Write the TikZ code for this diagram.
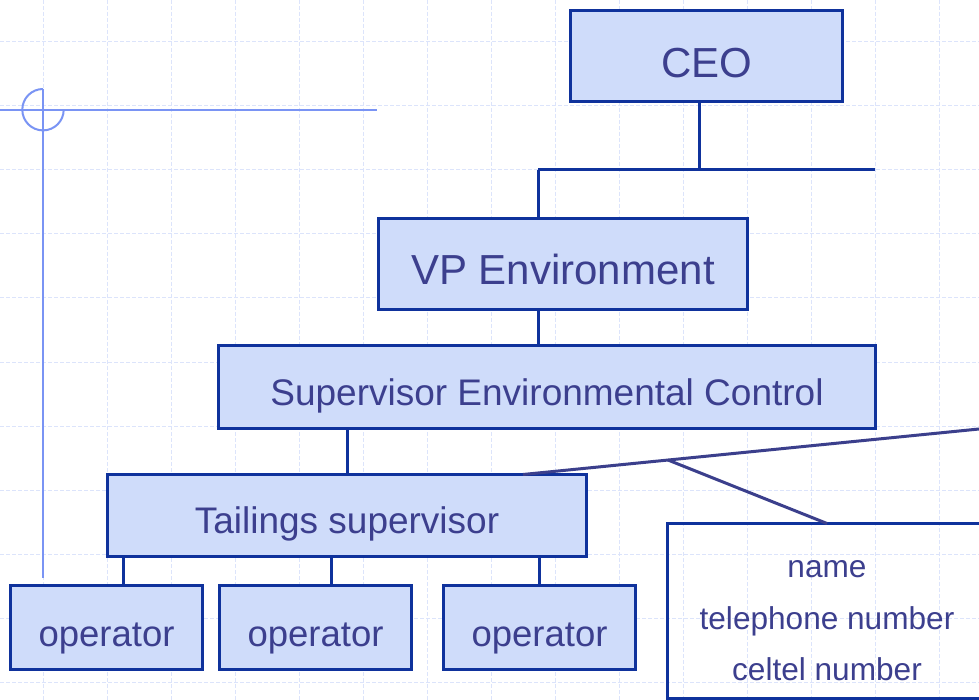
\documentclass[tikz,border=0pt]{standalone}
\usepackage{fontspec}
\setmainfont{Liberation Sans}
\usetikzlibrary{calc}
\definecolor{boxfill}{HTML}{CFDCFA}
\definecolor{boxline}{HTML}{0F329C}
\definecolor{txtcol}{HTML}{3C3F8E}
\definecolor{slantcol}{HTML}{3B3F8C}
\definecolor{decorcol}{HTML}{7A94F4}
\definecolor{gridcol}{HTML}{DCE4FB}
\begin{document}
\begin{tikzpicture}[x=1pt,y=-1pt,
  gridline/.style={draw=gridcol, line width=1pt, dash pattern=on 4pt off 2pt},
  decor/.style={draw=decorcol, line width=2pt},
  orgbox/.style={draw=boxline, fill=boxfill, line width=3pt, inner sep=0pt, outer sep=0pt, text=txtcol, anchor=center},
  bigbox/.style={orgbox, font=\fontsize{42}{50}\selectfont, text depth=0pt},
  midbox/.style={orgbox, font=\fontsize{37}{44}\selectfont, text depth=0pt},
  opbox/.style={orgbox, font=\fontsize{36.5}{44}\selectfont, minimum width=192pt, minimum height=84pt, text height=37pt, text depth=0pt},
  infobox/.style={draw=boxline, line width=3pt, inner sep=0pt, outer sep=0pt},
  infotext/.style={text=txtcol, align=center, inner sep=0pt, font=\fontsize{31.6}{51.5}\selectfont},
  conn/.style={draw=boxline, line width=3pt},
  slant/.style={draw=slantcol, line width=3pt}]
\useasboundingbox (0,0) rectangle (979,700);
\clip (0,0) rectangle (979,700);
\fill[white] (0,0) rectangle (979,700);
% grid
\foreach \k in {0,...,14} \draw[gridline] ({43+64*\k},0) -- ({43+64*\k},700);
\foreach \k in {0,...,10} \draw[gridline] (0,{42+64*\k}) -- (979,{42+64*\k});
% decoration
\draw[decor] (0,110) -- (377,110);
\draw[decor] (43,89) -- (43,578);
\draw[decor] (43,89) arc[start angle=90, end angle=360, radius=20.7pt];
% boxes
\node[bigbox, minimum width=272pt, minimum height=91pt, text height=44pt] (ceo) at (706.5,56) {CEO};
\node[bigbox, minimum width=369pt, minimum height=91pt, text height=42pt] (vp) at (563,264) {VP Environment};
\node[midbox, minimum width=657pt, minimum height=83pt, text height=36pt] (sup) at (547,387) {Supervisor Environmental Control};
\node[midbox, minimum width=479pt, minimum height=82pt, text height=35.5pt] (tail) at (347,515.5) {Tailings supervisor};
\node[opbox] (op1) at (106.5,627.5) {operator};
\node[opbox] (op2) at (315.5,627.5) {operator};
\node[opbox] (op3) at (539.5,627.5) {operator};
\node[infobox, minimum width=319pt, minimum height=175pt] (info) at (827,611) {};
\node[infotext] (infot) at (827,621) {name\\telephone number\\celtel number};
% connectors
\coordinate (cj) at (699,170);
\coordinate (cl) at (538,170);
\coordinate (cr) at (875,170);
\draw[conn] (ceo.south -| cj) -- (cj);
\draw[conn] (cl) -- (cr);
\draw[conn] (cl) -- (cl |- vp.north);
\draw[conn] (vp.south -| cl) -- (sup.north -| cl);
\draw[conn] (sup.south -| tail.north) -- (tail.north);
\draw[conn] ([xshift=16.5pt]op1.north) -- ([xshift=16.5pt]op1.north |- tail.south);
\draw[conn] ([xshift=15.5pt]op2.north) -- ([xshift=15.5pt]op2.north |- tail.south);
\draw[conn] (op3.north) -- (op3.north |- tail.south);
% callout lines
\coordinate (sr) at (979,429);
\coordinate (tp) at ([xshift=176pt]tail.north);
\coordinate (sb) at ($(sr)!0.682!(tp)$);
\draw[slant] (sr) -- (tp);
\draw[slant] (sb) -- (info.north);
\end{tikzpicture}
\end{document}
